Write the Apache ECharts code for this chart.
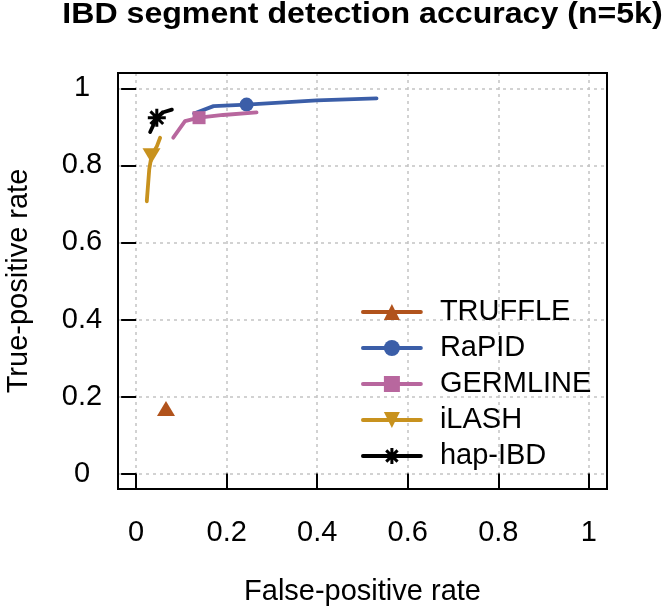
<!DOCTYPE html>
<html><head><meta charset="utf-8">
<script src="https://cdn.jsdelivr.net/npm/echarts@6/dist/echarts.min.js"></script>
<style>html,body{margin:0;padding:0;background:#fff}#c{width:666px;height:610px}</style>
</head><body><div id="c"></div>
<script>
// ---- data ----
const seriesNames = ['TRUFFLE', 'RaPID', 'GERMLINE', 'iLASH', 'hap-IBD'];
const truffleFpr = [0.066];
const truffleTpr = [0.169];
const rapidFpr = [0.128, 0.171, 0.244, 0.399, 0.531];
const rapidTpr = [0.935, 0.954, 0.958, 0.969, 0.974];
const germlineFpr = [0.082, 0.108, 0.139, 0.192, 0.266];
const germlineTpr = [0.872, 0.915, 0.924, 0.931, 0.938];
const ilashFpr = [0.0236, 0.029, 0.034, 0.046, 0.053];
const ilashTpr = [0.707, 0.790, 0.825, 0.850, 0.872];
const hapibdFpr = [0.031, 0.0457, 0.060, 0.079];
const hapibdTpr = [0.887, 0.924, 0.938, 0.945];
const markerIndex = [0, 2, 2, 2, 1];
const tickValues = [0, 0.2, 0.4, 0.6, 0.8, 1];
const titleText = 'IBD segment detection accuracy (n=5k)';
const xTitle = 'False-positive rate';
const yTitle = 'True-positive rate';

// ---- styling ----
const colors = ['#B1531C', '#3B5EA8', '#B8679E', '#C8921E', '#000000'];
const symbols = ['triangle', 'circle', 'rect', 'path://M0,0L10,0L5,8.66Z',
  'path://M0,-10L0,10M-10,0L10,0M-7.07,-7.07L7.07,7.07M-7.07,7.07L7.07,-7.07'];
const symbolSizes = [[18, 15], 14, 13, [18, 15], 18];
const FONT = '"Liberation Sans", Arial, Helvetica, sans-serif';
const W = 666, H = 610;
const BOX = { left: 118, right: 607, top: 73, bottom: 489 };
const pad = 0.04;
const LW = 3.8;

const xs = [truffleFpr, rapidFpr, germlineFpr, ilashFpr, hapibdFpr];
const ys = [truffleTpr, rapidTpr, germlineTpr, ilashTpr, hapibdTpr];

const series = seriesNames.map((name, k) => ({
  name,
  type: 'line',
  data: xs[k].map((x, i) => i === markerIndex[k]
    ? { value: [x, ys[k][i]] }
    : { value: [x, ys[k][i]], symbol: 'none' }),
  symbol: symbols[k],
  symbolSize: symbolSizes[k],
  showSymbol: true,
  showAllSymbol: true,
  color: colors[k],
  lineStyle: { color: colors[k], width: LW, cap: 'round', join: 'round' },
  itemStyle: k === 4
    ? { color: colors[k], borderColor: colors[k], borderWidth: 3 }
    : { color: colors[k] },
  emphasis: { disabled: true },
  z: 3 + k
}));

const legendData = seriesNames.map((name, k) => k === 4
  ? { name, itemStyle: { color: colors[k], borderColor: colors[k], borderWidth: 3 } }
  : { name });

const axisCommon = {
  type: 'value',
  min: -pad,
  max: 1 + pad,
  minInterval: 0.2,
  maxInterval: 0.2,
  axisLine: { show: false },
  axisTick: { show: true, length: 15, customValues: tickValues, lineStyle: { color: '#000', width: 2 } },
  splitLine: { show: true, lineStyle: { color: '#c4c4c4', width: 1.5, type: [3, 4] } }
};

const chart = echarts.init(document.getElementById('c'), null, { renderer: 'canvas' });
chart.setOption({
  animation: false,
  backgroundColor: '#fff',
  grid: {
    left: BOX.left, right: W - BOX.right, top: BOX.top, bottom: H - BOX.bottom,
    show: true, borderColor: '#000', borderWidth: 2, backgroundColor: 'transparent', z: 10
  },
  xAxis: Object.assign({}, axisCommon, {
    axisLabel: { customValues: tickValues, margin: 44, verticalAlign: 'middle', fontSize: 29, color: '#000', fontFamily: FONT }
  }),
  yAxis: Object.assign({}, axisCommon, {
    axisLabel: { customValues: tickValues, margin: 36, align: 'center', verticalAlign: 'middle', fontSize: 29, color: '#000', fontFamily: FONT }
  }),
  legend: {
    orient: 'vertical',
    left: 356,
    top: 292,
    itemWidth: 58,
    itemHeight: 20,
    itemGap: 6,
    selectedMode: false,
    lineStyle: { width: LW },
    textStyle: { fontSize: 29, color: '#000', fontFamily: FONT, lineHeight: 30, padding: [0, 0, 0, 14] },
    data: legendData
  },
  graphic: [
    { type: 'text', x: (BOX.left + BOX.right) / 2, y: 15, scaleX: 1.07,
      style: { text: titleText, font: 'bold 30px ' + FONT, fill: '#000', align: 'center', verticalAlign: 'middle' } },
    { type: 'text', x: (BOX.left + BOX.right) / 2, y: 592,
      style: { text: xTitle, font: '29px ' + FONT, fill: '#000', align: 'center', verticalAlign: 'middle' } },
    { type: 'text', x: 19, y: (BOX.top + BOX.bottom) / 2, rotation: Math.PI / 2,
      style: { text: yTitle, font: '29px ' + FONT, fill: '#000', align: 'center', verticalAlign: 'middle' } }
  ],
  series
});
</script>
</body></html>
